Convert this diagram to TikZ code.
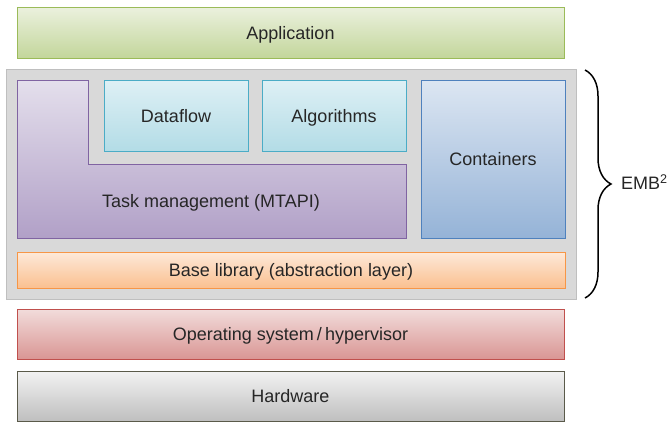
\documentclass[tikz,border=0pt]{standalone}
\usepackage{fontspec}
\setmainfont{Liberation Sans}
\usetikzlibrary{decorations.pathreplacing}
\definecolor{appline}{HTML}{9BBB59}
\definecolor{apptop}{HTML}{EBF1DE}
\definecolor{appbot}{HTML}{C3D69B}
\definecolor{embfill}{HTML}{D9D9D9}
\definecolor{embline}{HTML}{BFBFBF}
\definecolor{taskline}{HTML}{8064A2}
\definecolor{tasktop}{HTML}{E4DFEC}
\definecolor{taskbot}{HTML}{B1A0C7}
\definecolor{algoline}{HTML}{4BACC6}
\definecolor{algotop}{HTML}{DEF0F5}
\definecolor{algobot}{HTML}{B3DCE6}
\definecolor{contline}{HTML}{4F81BD}
\definecolor{conttop}{HTML}{DCE6F2}
\definecolor{contbot}{HTML}{95B3D7}
\definecolor{baseline}{HTML}{F79646}
\definecolor{basetop}{HTML}{FDE9D9}
\definecolor{basebot}{HTML}{FAC090}
\definecolor{osline}{HTML}{C0504D}
\definecolor{ostop}{HTML}{F2DCDB}
\definecolor{osbot}{HTML}{D99694}
\definecolor{hwline}{HTML}{5A5A4A}
\definecolor{hwtop}{HTML}{F2F2F2}
\definecolor{hwbot}{HTML}{BFBFBF}
\tikzstyle{layer}=[rectangle, inner sep=0pt, outer sep=0pt, line width=1pt, text=black!85, font=\fontsize{18}{21}\selectfont, text height=13pt, text depth=0pt]
\tikzstyle{app}=[draw=appline, top color=apptop, bottom color=appbot]
\tikzstyle{emb}=[draw=embline, fill=embfill]
\tikzstyle{task}=[draw=taskline, top color=tasktop, bottom color=taskbot, line width=1pt]
\tikzstyle{algo}=[draw=algoline, top color=algotop, bottom color=algobot]
\tikzstyle{cont}=[draw=contline, top color=conttop, bottom color=contbot]
\tikzstyle{base}=[draw=baseline, top color=basetop, bottom color=basebot]
\tikzstyle{os}=[draw=osline, top color=ostop, bottom color=osbot]
\tikzstyle{hw}=[draw=hwline, top color=hwtop, bottom color=hwbot]

\begin{document}
\begin{tikzpicture}[x=1pt, y=-1pt]
\useasboundingbox (0,0) rectangle (670,423);
\draw (290.5,32.5) node[layer, app, minimum width=547, minimum height=51] (A) {Application};
\draw (291,184) node[layer, emb, minimum width=570, minimum height=230] (E) {};
\draw[task] (17,80) -- (88,80) -- (88,164) -- (406,164) -- (406,238) -- (17,238) -- cycle;
\draw (211,201) node[layer] (T) {Task management (MTAPI)};
\draw (176,115.5) node[layer, algo, minimum width=144, minimum height=71] (D) {Dataflow};
\draw (334,115.5) node[layer, algo, minimum width=144, minimum height=71] (G) {Algorithms};
\draw (493,159) node[layer, cont, minimum width=144, minimum height=158] (C) {Containers};
\draw (291,270) node[layer, base, minimum width=548, minimum height=36] (B) {Base library (abstraction layer)};
\draw (290.5,334) node[layer, os, minimum width=547, minimum height=50] (O) {Operating system\,/\,hypervisor};
\draw (290.5,396) node[layer, hw, minimum width=547, minimum height=50] (H) {Hardware};

\coordinate (Btop) at (585,70);
\coordinate (Bbot) at (585,298);
\draw[line width=1.5pt, decorate, decoration={brace, amplitude=26}] (Btop) -- (Bbot);
\draw (621,183) node[layer, anchor=west] (M) {EMB\textsuperscript{2}};
\end{tikzpicture}
\end{document}
